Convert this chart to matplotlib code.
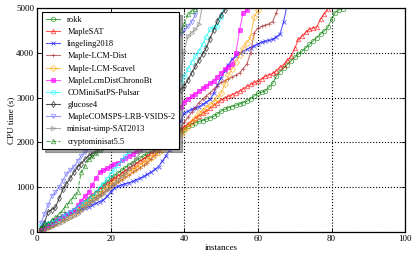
import matplotlib
matplotlib.use("Agg")
import matplotlib.pyplot as plt

plt.rcParams['font.family'] = ['Liberation Serif', 'DejaVu Serif']
plt.rcParams['font.size'] = 6.5

solvers = ["rokk", "MapleSAT", "lingeling2018", "Maple-LCM-Dist", "Maple-LCM-Scavel",
           "MapleLcmDistChronoBt", "COMiniSatPS-Pulsar", "glucose4",
           "MapleCOMSPS-LRB-VSIDS-2", "minisat-simp-SAT2013", "cryptominisat5.5"]

rokk = [20, 60, 110, 150, 200, 250, 310, 370, 430, 500,
        560, 620, 680, 740, 800, 880, 960, 1040, 1120, 1200,
        1260, 1320, 1380, 1440, 1500, 1550, 1600, 1650, 1700, 1750,
        1800, 1850, 1900, 1950, 2000, 2060, 2120, 2180, 2240, 2300,
        2360, 2400, 2440, 2470, 2490, 2520, 2550, 2580, 2640, 2700,
        2740, 2780, 2800, 2830, 2860, 2890, 2920, 2980, 3040, 3100,
        3120, 3150, 3230, 3320, 3480, 3580, 3660, 3740, 3820, 3900,
        3970, 4040, 4110, 4190, 4270, 4340, 4420, 4490, 4570, 4760,
        4900, 4960, 4990]
maplesat = [30, 80, 130, 180, 230, 290, 340, 390, 440, 500,
            560, 620, 690, 760, 830, 900, 960, 1020, 1090, 1150,
            1200, 1260, 1310, 1370, 1420, 1480, 1530, 1590, 1640, 1700,
            1760, 1820, 1880, 1940, 2000, 2070, 2140, 2210, 2280, 2350,
            2420, 2480, 2540, 2600, 2650, 2710, 2770, 2830, 2890, 2950,
            2990, 3030, 3070, 3110, 3150, 3200, 3250, 3300, 3340, 3380,
            3420, 3480, 3510, 3540, 3600, 3680, 3740, 3830, 3930, 4100,
            4300, 4380, 4460, 4530, 4560, 4580, 4760, 4870, 4990, 5100]
lingeling = [50, 100, 150, 200, 250, 290, 330, 370, 410, 450,
             480, 510, 540, 570, 600, 640, 680, 720, 800, 900,
             980, 1020, 1050, 1080, 1100, 1130, 1170, 1200, 1240, 1290,
             1340, 1400, 1460, 1580, 1700, 1840, 2050, 2300, 2480, 2650,
             2700, 2740, 2770, 2800, 2850, 2900, 2960, 3100, 3280, 3450,
             3600, 3740, 3860, 3940, 4000, 4040, 4080, 4120, 4160, 4200,
             4240, 4260, 4280, 4300, 4360, 4420, 4700, 5100]
lcm_dist = [60, 100, 140, 190, 240, 280, 320, 360, 400, 450,
            500, 560, 610, 660, 720, 770, 830, 880, 940, 1000,
            1050, 1110, 1160, 1220, 1270, 1330, 1380, 1440, 1490, 1550,
            1630, 1710, 1790, 1870, 1950, 2030, 2110, 2200, 2320, 2450,
            2560, 2670, 2780, 2890, 2960, 3040, 3110, 3190, 3260, 3340,
            3380, 3420, 3460, 3500, 3550, 3650, 3750, 4000, 4450, 4550,
            4590, 4620, 4650, 4700, 4900, 5100]
lcm_scavel = [40, 80, 120, 160, 200, 240, 280, 320, 360, 400,
              460, 530, 600, 660, 730, 790, 860, 920, 990, 1050,
              1110, 1160, 1220, 1270, 1330, 1380, 1440, 1490, 1550, 1600,
              1660, 1720, 1780, 1840, 1900, 1970, 2040, 2110, 2180, 2250,
              2350, 2450, 2550, 2650, 2710, 2780, 2840, 2900, 3000, 3100,
              3300, 3500, 3650, 3800, 3950, 4100, 4230, 4350, 4800, 4950,
              5100]
chronobt = [50, 100, 150, 200, 260, 310, 360, 410, 450, 500,
            600, 700, 800, 900, 1050, 1200, 1330, 1380, 1420, 1470,
            1510, 1550, 1600, 1650, 1700, 1750, 1800, 1850, 1900, 1950,
            2010, 2070, 2130, 2190, 2250, 2400, 2550, 2700, 2800, 2900,
            2970, 3030, 3090, 3150, 3210, 3260, 3320, 3370, 3470, 3560,
            3630, 3690, 3750, 4000, 4500, 4900, 4950, 5100]
pulsar = [150, 180, 200, 230, 250, 300, 350, 400, 450, 500,
          560, 620, 680, 740, 800, 890, 980, 1080, 1190, 1300,
          1400, 1500, 1600, 1700, 1800, 1900, 2000, 2100, 2200, 2300,
          2400, 2500, 2600, 2700, 2800, 2940, 3080, 3220, 3350, 3480,
          3640, 3800, 3920, 4040, 4200, 4360, 4530, 4570, 4600, 4800,
          5100]
glucose = [100, 200, 450, 500, 550, 750, 950, 1080, 1200, 1330,
           1450, 1530, 1620, 1700, 1750, 1800, 1850, 1900, 1950, 2000,
           2060, 2120, 2180, 2240, 2300, 2360, 2420, 2480, 2540, 2600,
           2660, 2720, 2780, 2840, 2900, 2970, 3040, 3110, 3180, 3260,
           3400, 3550, 3700, 3840, 3980, 4120, 4320, 4520, 4720, 4850,
           4950, 5100]
lrb = [200, 400, 600, 800, 900, 1000, 1150, 1300, 1380, 1460,
       1580, 1700, 1780, 1850, 1980, 2100, 2220, 2350, 2480, 2600,
       2720, 2840, 2960, 3080, 3200, 3300, 3400, 3500, 3600, 3700,
       3780, 3860, 3940, 4020, 4100, 4180, 4260, 4340, 4420, 4500,
       4600, 4700, 4850, 5100]
minisat = [20, 50, 80, 110, 150, 190, 230, 270, 310, 350,
           410, 470, 530, 600, 660, 730, 800, 860, 930, 1000,
           1080, 1160, 1240, 1320, 1400, 1520, 1650, 1780, 1840, 1900,
           1950, 2000, 2130, 2260, 2400, 2600, 2800, 3000, 3500, 4050,
           4380, 4450, 4530, 4640, 5100]
crypto = [100, 150, 200, 270, 330, 400, 500, 600, 700, 800,
          900, 1330, 1480, 1620, 1700, 1770, 1840, 1920, 2000, 2130,
          2270, 2400, 2530, 2670, 2800, 2900, 3000, 3100, 3200, 3300,
          3420, 3540, 3660, 3780, 3900, 4050, 4200, 4350, 4500, 4640,
          4870, 4940, 4980, 5100]

series = [rokk, maplesat, lingeling, lcm_dist, lcm_scavel, chronobt,
          pulsar, glucose, lrb, minisat, crypto]

# (color, marker, linestyle, filled)
styles = [("green", "o", "-", False),
          ("red", "^", "-", False),
          ("blue", "x", "-", False),
          ("brown", "+", "-", False),
          ("orange", "D", "-", False),
          ("magenta", "s", "-", True),
          ("cyan", "o", "-", False),
          ("black", "d", "-", False),
          ("#6666ff", "v", "-", False),
          ("gray", ">", "-", False),
          ("green", "^", "--", False)]

fig = plt.figure(figsize=(4.16, 2.61), dpi=100)
ax = fig.add_axes([0.089, 0.111, 0.885, 0.858])

for name, vals, (c, m, ls, filled) in zip(solvers, series, styles):
    xs = list(range(1, len(vals) + 1))
    ax.plot(xs, vals, color=c, marker=m, linestyle=ls, linewidth=0.8,
            markersize=3.2, markeredgewidth=0.6, alpha=0.65,
            markerfacecolor=(c if filled else "none"), label=name)

ax.set_xlim(0, 100)
ax.set_ylim(0, 5000)
ax.set_xticks([0, 20, 40, 60, 80, 100])
ax.set_yticks([0, 1000, 2000, 3000, 4000, 5000])
ax.tick_params(direction="in", top=True, right=True, length=3, width=0.6, pad=2)
ax.grid(True, linestyle=":", color="black", linewidth=0.8)
for s in ax.spines.values():
    s.set_linewidth(0.9)
ax.set_xlabel("instances", labelpad=1)
ax.set_ylabel("CPU time (s)", labelpad=1)

leg = ax.legend(loc="upper left", fancybox=False, shadow=True, framealpha=1,
                edgecolor="black", labelspacing=0.5, handlelength=1.7,
                handletextpad=0.9, borderpad=0.45, fontsize=6,
                borderaxespad=0, bbox_to_anchor=(0.013, 0.982))
leg.get_frame().set_linewidth(0.8)

fig.savefig("out.png", dpi=100)
